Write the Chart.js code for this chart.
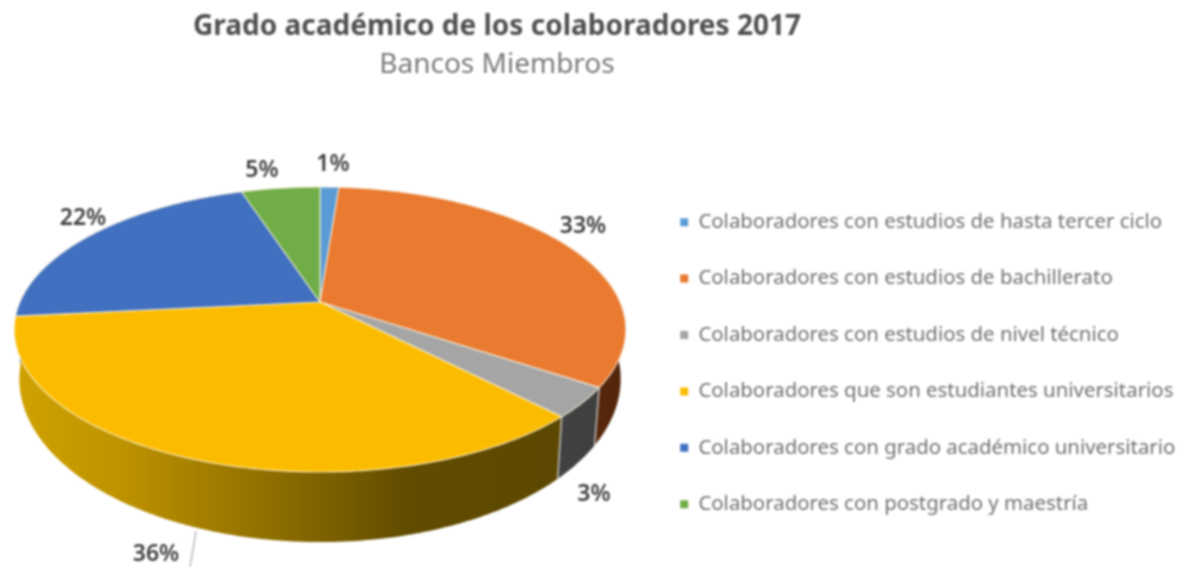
<!DOCTYPE html>
<html><head><meta charset="utf-8">
<style>html,body{margin:0;padding:0;background:#fff}#w{width:1179px;height:567px;overflow:hidden}canvas{filter:blur(0.9px)}</style>
<script src="https://cdn.jsdelivr.net/npm/chart.js@4"></script>
</head><body><div id="w"><canvas id="c" width="1179" height="567"></canvas></div>
<script>
const categories = [
  "Colaboradores con estudios de hasta tercer ciclo",
  "Colaboradores con estudios de bachillerato",
  "Colaboradores con estudios de nivel técnico",
  "Colaboradores que son estudiantes universitarios",
  "Colaboradores con grado académico universitario",
  "Colaboradores con postgrado y maestría"
];
const values = [1.2, 33.2, 3.4, 35.6, 21.6, 5.0];
const sliceColors = ["#5B9BD5","#E97A2F","#A5A5A5","#FBBC00","#4170C0","#70AD47"];
const labelAnchors = [[333,164],[583,226],[594,494],[156,554],[83,218],[262,170]];
const titleText = "Grado académico de los colaboradores 2017";
const subtitleText = "Bancos Miembros";

const wallStops = [
  [[0,"#37608a"],[1,"#37608a"]],
  [[0,"#6e3413"],[1,"#4f230a"]],
  [[0,"#454545"],[1,"#3c3c3c"]],
  [[0,"#d0a200"],[0.2,"#bd9200"],[0.45,"#927100"],[0.58,"#7c6000"],[0.72,"#624c00"],[1,"#5c4800"]],
  [[0,"#2b4a80"],[1,"#2b4a80"]],
  [[0,"#4f7a30"],[1,"#4f7a30"]]
];
// perspective of the pie disc, in units of the library's outer radius
const topRim = {rx:1.5, ry:0.686, dy:0, k:0.193};
const botRim = {rx:1.475, ry:0.785, dy:0.2275, k:0.193};

function pt(el, a, rim){
  const th = a + Math.PI/2, x = Math.sin(th), y = -Math.cos(th), r = el.outerRadius;
  const w = 1 - rim.k*y;
  return [el.x + r*rim.rx*x/w, el.y + r*rim.dy + r*rim.ry*y/w];
}
function rimPath(ctx, el, a, b, rim, first){
  const n = Math.max(4, Math.ceil(Math.abs(b-a)/0.01));
  for(let i=0;i<=n;i++){
    const p = pt(el, a+(b-a)*i/n, rim);
    if(i===0 && first) ctx.moveTo(p[0],p[1]); else ctx.lineTo(p[0],p[1]);
  }
}
const pie3d = {
  id:"pie3d",
  afterLayout(chart){
    const ca = chart.chartArea;
    ca.left=20; ca.right=620; ca.top=102; ca.bottom=502; ca.width=600; ca.height=400;
    const lg = chart.legend;
    lg.left=644.2; lg.right=1179; lg.top=176; lg.bottom=600;
    chart.boxes.forEach(b=>{
      if(b!==lg && b.position==="top"){ b.left=-185; b.right=1179; }
    });
  },
  beforeDatasetDraw(){ return false; },
  afterDatasetsDraw(chart){
    const ctx = chart.ctx, arcs = chart.getDatasetMeta(0).data;
    ctx.save();
    arcs.forEach((el,i)=>{
      const st = wallStops[i];
      const g = i===3 ? ctx.createLinearGradient(15,0,556,0) : ctx.createLinearGradient(el.x+200,0,el.x+310,0);
      st.forEach(s=>g.addColorStop(s[0],s[1]));
      ctx.beginPath();
      rimPath(ctx,el,el.startAngle,el.endAngle,topRim,true);
      rimPath(ctx,el,el.endAngle,el.startAngle,botRim,false);
      ctx.closePath();
      ctx.fillStyle=g;
      ctx.fill();
    });
    // light seams between wall pieces
    ctx.strokeStyle="#c9c9c9"; ctx.lineWidth=1.4;
    [1,2].forEach(i=>{
      const el=arcs[i], p=pt(el,el.endAngle,topRim), q=pt(el,el.endAngle,botRim);
      ctx.beginPath(); ctx.moveTo(p[0],p[1]); ctx.lineTo(q[0],q[1]); ctx.stroke();
    });
    arcs.forEach((el,i)=>{
      ctx.beginPath();
      ctx.moveTo(el.x,el.y);
      rimPath(ctx,el,el.startAngle,el.endAngle,topRim,false);
      ctx.closePath();
      ctx.fillStyle=sliceColors[i]; ctx.fill();
      ctx.strokeStyle="rgba(255,245,225,0.75)"; ctx.lineWidth=1.2; ctx.stroke();
    });
    // leader line of the 36% label
    ctx.strokeStyle="#a6a6a6"; ctx.lineWidth=1.2;
    ctx.beginPath(); ctx.moveTo(196,531); ctx.lineTo(190,567); ctx.stroke();
    ctx.font="600 23px 'Noto Sans'"; ctx.fillStyle="#404040"; ctx.textAlign="center"; ctx.textBaseline="middle";
    values.forEach((v,i)=>ctx.fillText(Math.round(v)+"%",labelAnchors[i][0],labelAnchors[i][1]));
    ctx.restore();
  }
};
new Chart(document.getElementById("c"),{
  type:"pie",
  data:{labels:categories,datasets:[{data:values,backgroundColor:sliceColors,borderWidth:0}]},
  options:{
    responsive:false,animation:false,
    plugins:{
      title:{display:true,text:titleText,color:"#505050",font:{family:"Noto Sans",size:28,weight:"bold"},padding:{top:10,bottom:0}},
      subtitle:{display:true,text:subtitleText,color:"#7a7a7a",font:{family:"Noto Sans",size:28,weight:"normal"},padding:{top:5,bottom:0}},
      legend:{position:"right",align:"start",labels:{boxWidth:8,boxHeight:8,padding:36,color:"#707070",font:{family:"Noto Sans",size:20.4}}},
      tooltip:{enabled:false}
    }
  },
  plugins:[pie3d]
});
</script></body></html>
